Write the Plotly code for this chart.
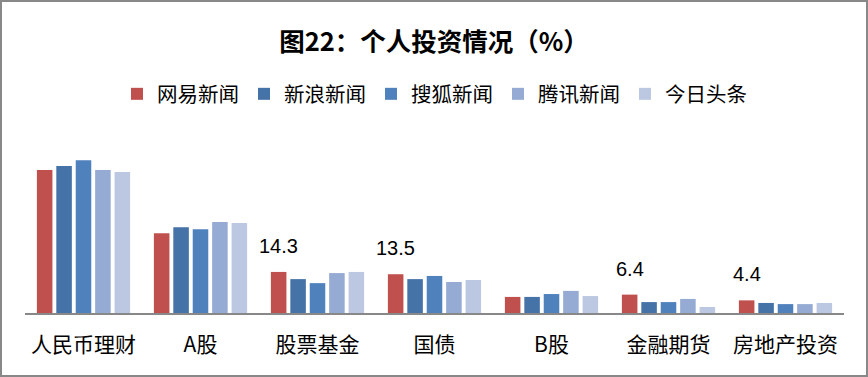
import plotly.graph_objects as go

categories = ["人民币理财", "A股", "股票基金", "国债", "B股", "金融期货", "房地产投资"]
series_names = ["网易新闻", "新浪新闻", "搜狐新闻", "腾讯新闻", "今日头条"]
wangyi = [49.8, 27.8, 14.3, 13.5, 5.6, 6.4, 4.4]
xinlang = [51.2, 29.9, 11.8, 11.8, 5.6, 3.8, 3.5]
souhu = [53.2, 29.2, 10.4, 12.9, 6.6, 3.8, 3.1]
tengxun = [49.8, 31.7, 13.9, 10.8, 7.7, 4.9, 3.1]
toutiao = [49.1, 31.3, 14.3, 11.5, 5.9, 2.1, 3.5]
wangyi_labels = ["", "", "14.3", "13.5", "", "6.4", "4.4"]
title_text = "图22：个人投资情况（%）"

colors = ["#C0504D", "#4572A7", "#4F81BD", "#95ABD3", "#BCC8E1"]
values = [wangyi, xinlang, souhu, tengxun, toutiao]

FONT = "Noto Sans CJK SC, Microsoft YaHei, sans-serif"
W, H = 868, 377
ML, MR, MT, MB = 25, 24, 120, 64
BARGAP = 0.17
plot_w = W - ML - MR
cat_px = plot_w / len(categories)
step_px = cat_px * (1 - BARGAP) / len(series_names)
first_offset = -(len(series_names) - 1) / 2 * step_px

fig = go.Figure()
for i, (name, vals) in enumerate(zip(series_names, values)):
    fig.add_trace(go.Bar(
        x=categories, y=vals, name=name,
        marker=dict(color=colors[i], line=dict(width=0)),
        hoverinfo="skip",
    ))

annotations = []
for cat, v, lab in zip(categories, wangyi, wangyi_labels):
    if lab:
        annotations.append(dict(
            x=cat, y=v, xref="x", yref="y", text=lab, showarrow=False,
            xshift=first_offset, yshift=26, xanchor="center", yanchor="middle",
            font=dict(size=20, color="#000000", family="Liberation Sans, Arial, sans-serif"),
        ))

fig.update_layout(
    width=W, height=H,
    margin=dict(l=ML, r=MR, t=MT, b=MB, autoexpand=False),
    paper_bgcolor="white", plot_bgcolor="white",
    barmode="group", bargap=BARGAP, bargroupgap=0.2,
    font=dict(family=FONT, color="#000000"),
    title=dict(text="<b>" + title_text + "</b>", x=0.5, xanchor="center",
               y=1 - 42 / H, yanchor="middle", yref="container",
               font=dict(size=25.5, color="#000000", family=FONT)),
    legend=dict(orientation="h", x=0.5, xanchor="center", y=1 - 94 / H,
                yref="container", yanchor="middle",
                font=dict(size=20.5, color="#000000", family=FONT),
                itemwidth=30, tracegroupgap=0, traceorder="normal",
                bgcolor="rgba(0,0,0,0)"),
    xaxis=dict(showline=True, linecolor="#888888", linewidth=1.5,
               showgrid=False, ticks="", tickfont=dict(size=21, color="#000000", family=FONT),
               ticklabelstandoff=12, fixedrange=True),
    yaxis=dict(range=[0, 67.2], visible=False, showgrid=False, zeroline=False, fixedrange=True),
    annotations=annotations,
    shapes=[dict(type="rect", xref="paper", yref="paper",
                 x0=-(ML - 1) / plot_w, x1=(W - 1 - ML) / plot_w,
                 y0=-(MB - 1) / (H - MT - MB), y1=1 + (MT - 1) / (H - MT - MB),
                 line=dict(color="#888888", width=2), fillcolor="rgba(0,0,0,0)")],
    showlegend=True,
)

fig.write_html("out.html", config={"displayModeBar": False},
               post_script="document.body.style.margin='0';document.body.style.overflow='hidden';")
